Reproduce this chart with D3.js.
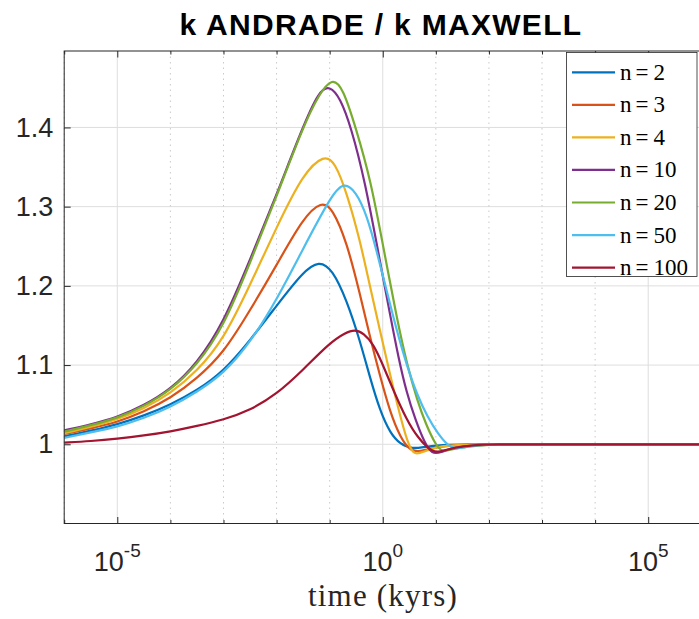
<!DOCTYPE html>
<html>
<head>
<meta charset="utf-8">
<script src="https://cdn.jsdelivr.net/npm/d3@7"></script>
<style>
body { margin: 0; background: #fff; }
</style>
</head>
<body>
<script>
// series names / legend numbers / matlab default colours
var seriesNums = ["2","3","4","10","20","50","100"];
var colors = ["#0072BD","#D95319","#EDB120","#7E2F8E","#77AC30","#4DBEEE","#A2142F"];

// log10(time in kyrs) and k ratio, one pair per series
var logT_n2 = [-6,-5.5,-5,-4.5,-4,-3.5,-3,-2.5,-2,-1.5,-1.2,-0.95,-0.68,-0.43,-0.24,-0.05,0.14,0.33,0.55,0.8,1.1,1.6,2.2,3,4,5,6.1];
var k_n2    = [1.010,1.017,1.025,1.036,1.050,1.068,1.092,1.131,1.175,1.218,1.232,1.221,1.182,1.131,1.084,1.042,1.014,1.000,0.994,0.997,0.999,1.000,1.000,1.000,1.000,1.000,1.000];

var logT_n3 = [-6,-5.5,-5,-4.5,-4,-3.5,-3,-2.5,-2,-1.5,-1.15,-0.95,-0.68,-0.43,-0.24,-0.05,0.14,0.33,0.5,0.67,0.9,1.3,1.8,3,4,5,6.1];
var k_n3    = [1.013,1.020,1.028,1.041,1.058,1.083,1.115,1.169,1.226,1.286,1.307,1.298,1.256,1.190,1.135,1.086,1.040,1.009,0.993,0.990,0.995,0.999,1.000,1.000,1.000,1.000,1.000];

var logT_n4 = [-6,-5.5,-5,-4.5,-4,-3.5,-3,-2.5,-2,-1.5,-1.1,-0.9,-0.68,-0.43,-0.24,-0.05,0.14,0.33,0.46,0.58,0.75,1.0,1.5,3,4,5,6.1];
var k_n4    = [1.014,1.022,1.031,1.045,1.064,1.092,1.132,1.201,1.274,1.342,1.366,1.356,1.318,1.258,1.199,1.143,1.087,1.035,1.004,0.986,0.990,0.997,1.000,1.000,1.000,1.000,1.000];

var logT_n10 = [-6,-5.5,-5,-4.5,-4,-3.5,-3,-2.5,-2,-1.5,-1.2,-1.0,-0.8,-0.6,-0.34,-0.05,0.14,0.3,0.45,0.62,0.78,0.93,1.1,1.3,1.6,2.0,3,4,5,6.1];
var k_n10    = [1.0175,1.025,1.034,1.049,1.069,1.102,1.153,1.233,1.315,1.402,1.446,1.453,1.437,1.401,1.334,1.230,1.163,1.108,1.065,1.030,1.003,0.987,0.990,0.995,0.998,1.000,1.000,1.000,1.000,1.000];

var logT_n20 = [-6,-5.5,-5,-4.5,-4,-3.5,-3,-2.5,-2,-1.5,-1.2,-0.95,-0.75,-0.5,-0.23,0.0,0.27,0.46,0.65,0.82,1.0,1.12,1.3,1.6,2.0,3,4,5,6.1];
var k_n20    = [1.016,1.024,1.033,1.048,1.068,1.100,1.148,1.229,1.313,1.401,1.442,1.463,1.450,1.398,1.334,1.253,1.157,1.100,1.055,1.024,0.999,0.990,0.994,0.997,1.000,1.000,1.000,1.000,1.000];

var logT_n50 = [-6,-5.5,-5,-4.5,-4,-3.5,-3,-2.5,-2,-1.5,-1.0,-0.75,-0.5,-0.3,-0.11,0.08,0.27,0.46,0.65,0.84,1.03,1.3,1.55,1.8,2.2,3,4,5,6.1];
var k_n50    = [1.008,1.015,1.022,1.033,1.047,1.066,1.089,1.128,1.182,1.247,1.310,1.332,1.319,1.289,1.243,1.192,1.142,1.098,1.062,1.035,1.014,0.992,0.997,0.999,1.000,1.000,1.000,1.000,1.000];

var logT_n100 = [-6,-5.5,-5,-4.5,-4,-3.5,-3,-2.5,-2,-1.5,-1.0,-0.7,-0.52,-0.36,-0.18,0.0,0.2,0.45,0.65,0.95,1.15,1.35,1.7,2.1,3,4,5,6.1];
var k_n100    = [1.002,1.004,1.007,1.011,1.016,1.023,1.031,1.043,1.063,1.094,1.128,1.141,1.145,1.140,1.127,1.101,1.068,1.031,1.009,0.988,0.992,0.996,0.999,1.000,1.000,1.000,1.000,1.000];

var allLogT = [logT_n2, logT_n3, logT_n4, logT_n10, logT_n20, logT_n50, logT_n100];
var allK    = [k_n2, k_n3, k_n4, k_n10, k_n20, k_n50, k_n100];

// ticks
var yTicks = [1, 1.1, 1.2, 1.3, 1.4];
var yTickLabels = ["1","1.1","1.2","1.3","1.4"];
var xMajorExp = [-5, 0, 5];                       // labelled decades
var xMinorExp = [-6,-4,-3,-2,-1,1,2,3,4,6];       // other decades (dotted grid)

var W = 699, H = 619;
var plotL = 64.2, plotR = 701.3, plotT = 51, plotB = 523.5;

var x = d3.scaleLog().domain([1e-6, 1e6]).range([plotL, plotR]);
var y = d3.scaleLinear().domain([0.9, 1.4965]).range([plotB, plotT]);

var svg = d3.select("body").append("svg").attr("width", W).attr("height", H);

svg.append("defs").append("clipPath").attr("id","plotclip")
   .append("rect").attr("x",plotL).attr("y",plotT).attr("width",plotR-plotL).attr("height",plotB-plotT);

// grid lines
svg.append("g").selectAll("line.hg")
   .data(yTicks)
   .enter().append("line")
     .attr("class","hg")
     .attr("x1",plotL).attr("x2",plotR)
     .attr("y1",function(d){ return y(d); }).attr("y2",function(d){ return y(d); })
     .attr("stroke","#dedede").attr("stroke-width",1);

svg.append("g").selectAll("line.vminor")
   .data(xMinorExp)
   .enter().append("line")
     .attr("class","vminor")
     .attr("x1",function(d){ return x(Math.pow(10,d)); }).attr("x2",function(d){ return x(Math.pow(10,d)); })
     .attr("y1",plotT).attr("y2",plotB)
     .attr("stroke","#cacaca").attr("stroke-width",1).attr("stroke-dasharray","1.5,4");

svg.append("g").selectAll("line.vmajor")
   .data(xMajorExp)
   .enter().append("line")
     .attr("class","vmajor")
     .attr("x1",function(d){ return x(Math.pow(10,d)); }).attr("x2",function(d){ return x(Math.pow(10,d)); })
     .attr("y1",plotT).attr("y2",plotB)
     .attr("stroke","#dedede").attr("stroke-width",1);

// curves - b-spline through the read points to keep them smooth
var line = d3.line()
    .x(function(d){ return x(Math.pow(10,d[0])); })
    .y(function(d){ return y(d[1]); })
    .curve(d3.curveBasis);

svg.append("g").attr("clip-path","url(#plotclip)")
   .selectAll("path")
   .data(allLogT.map(function(t,i){ return t.map(function(e,j){ return [e, allK[i][j]]; }); }))
   .enter().append("path")
     .attr("d", line)
     .attr("fill","none")
     .attr("stroke",function(d,i){ return colors[i]; })
     .attr("stroke-width",2.2)
     .attr("stroke-linejoin","round");

// axes (ticks point inwards, like matlab)
var axisColor = "#262626";

var gy = svg.append("g").attr("transform","translate(" + plotL + ",0)")
   .call(d3.axisLeft(y).tickValues(yTicks).tickSize(-6.5).tickPadding(11)
          .tickFormat(function(d,i){ return yTickLabels[i]; }));
gy.select(".domain").remove();
gy.selectAll(".tick line").attr("stroke",axisColor);
gy.selectAll(".tick text").attr("fill",axisColor).attr("font-family","Liberation Sans, Arial, sans-serif").attr("font-size",27);

function xAxisPair(axisFn, ypos){
  var gMaj = svg.append("g").attr("transform","translate(0," + ypos + ")")
     .call(axisFn(x).tickValues(xMajorExp.map(function(e){ return Math.pow(10,e); })).tickSize(-6.5).tickFormat(""));
  gMaj.select(".domain").remove();
  gMaj.selectAll(".tick line").attr("stroke",axisColor);
  var gMin = svg.append("g").attr("transform","translate(0," + ypos + ")")
     .call(axisFn(x).tickValues(xMinorExp.map(function(e){ return Math.pow(10,e); })).tickSize(-3.5).tickFormat(""));
  gMin.select(".domain").remove();
  gMin.selectAll(".tick line").attr("stroke",axisColor);
}
xAxisPair(d3.axisBottom, plotB);
xAxisPair(d3.axisTop, plotT);

// x tick labels 10^e
var xl = svg.append("g").selectAll("text.xlab")
   .data(xMajorExp)
   .enter().append("text")
     .attr("class","xlab")
     .attr("x",function(d){ return x(Math.pow(10,d)); })
     .attr("y",571)
     .attr("text-anchor","middle")
     .attr("fill",axisColor)
     .attr("font-family","Liberation Sans, Arial, sans-serif")
     .attr("font-size",27);
xl.append("tspan").text("10");
xl.append("tspan").attr("dy",-14).attr("font-size",19).text(function(d){ return String(d); });

// box
svg.append("rect")
   .attr("x",plotL).attr("y",plotT).attr("width",plotR-plotL).attr("height",plotB-plotT)
   .attr("fill","none").attr("stroke",axisColor).attr("stroke-width",1);

// title
svg.append("text")
   .attr("x",381).attr("y",35)
   .attr("text-anchor","middle")
   .attr("font-family","Liberation Sans, Arial, sans-serif")
   .attr("font-weight","bold")
   .attr("font-size",30)
   .attr("letter-spacing",1.3)
   .attr("fill","#000")
   .text("k ANDRADE / k MAXWELL");

// x label
svg.append("text")
   .attr("x",383).attr("y",606)
   .attr("text-anchor","middle")
   .attr("font-family","Liberation Serif, Times New Roman, serif")
   .attr("font-size",31)
   .attr("letter-spacing",1.2)
   .attr("fill",axisColor)
   .text("time (kyrs)");

// legend
var legX = 566.5, legY = 52.5, legW = 130.5, legH = 224;
svg.append("rect")
   .attr("x",legX).attr("y",legY).attr("width",legW).attr("height",legH)
   .attr("fill","#fff").attr("stroke",axisColor).attr("stroke-width",0.8);

var leg = svg.append("g").selectAll("g")
   .data(seriesNums)
   .enter().append("g")
     .attr("transform",function(d,i){ return "translate(0," + (72.3 + i*32.55) + ")"; });
leg.append("line")
   .attr("x1",572).attr("x2",615).attr("y1",0).attr("y2",0)
   .attr("stroke",function(d,i){ return colors[i]; }).attr("stroke-width",2.2);
var lt = leg.append("text")
   .attr("x",620).attr("y",7.5)
   .attr("font-family","Liberation Serif, Times New Roman, serif")
   .attr("font-size",23)
   .attr("fill","#000");
lt.append("tspan").text("n");
lt.append("tspan").attr("dx",4).text("=");
lt.append("tspan").attr("dx",5).text(function(d){ return d; });
</script>
</body>
</html>
